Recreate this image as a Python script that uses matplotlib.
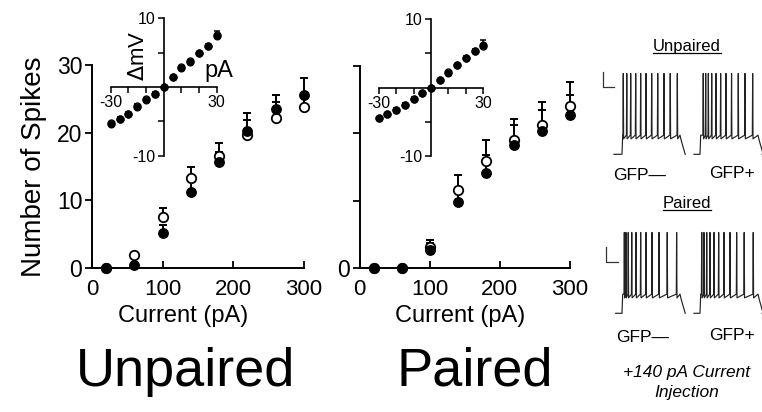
import numpy as np
import matplotlib
matplotlib.use("Agg")
import matplotlib.pyplot as plt
from matplotlib.lines import Line2D

plt.rcParams['font.family'] = ['Liberation Sans', 'DejaVu Sans']

# ---------------- data ----------------
current = [20, 60, 100, 140, 180, 220, 260, 300]

unp_gfpneg = [0, 0.4, 5.1, 11.3, 15.7, 20.2, 23.5, 25.6]
unp_gfpneg_err = [0, 0, 1.3, 2.1, 1.5, 2.7, 2.1, 2.5]
unp_gfppos = [0, 1.9, 7.5, 13.3, 16.6, 19.6, 22.2, 23.8]
unp_gfppos_err = [0, 0, 1.4, 1.7, 1.9, 2.3, 2.3, 1.8]

par_gfpneg = [0, 0, 2.7, 9.8, 14.2, 18.3, 20.4, 22.7]
par_gfpneg_err = [0, 0, 1.1, 1.5, 2.6, 2.9, 3.1, 3.0]
par_gfppos = [0, 0, 3.2, 11.6, 15.9, 19.1, 21.3, 24.0]
par_gfppos_err = [0, 0, 1.0, 2.3, 3.1, 3.1, 3.4, 3.6]

inset_current = [-30, -25, -20, -15, -10, -5, 0, 5, 10, 15, 20, 25, 30]
unp_iv_neg = [-5.4, -4.6, -4.0, -2.9, -1.85, -1.0, 0, 1.4, 2.7, 3.7, 4.9, 5.9, 7.4]
unp_iv_pos = [-5.3, -4.6, -3.9, -2.7, -1.8, -1.0, 0, 1.4, 2.9, 3.8, 4.9, 6.0, 7.5]
unp_iv_err = [0.2, 0.2, 0.2, 0.2, 0.2, 0.2, 0, 0.2, 0.2, 0.2, 0.2, 0.3, 0.7]
par_iv_neg = [-4.5, -3.9, -3.2, -2.5, -1.7, -0.8, 0, 1.1, 2.1, 3.3, 4.3, 5.3, 6.3]
par_iv_pos = [-4.5, -3.9, -3.2, -2.5, -1.6, -0.8, 0, 1.1, 2.3, 3.3, 4.4, 5.4, 6.1]
par_iv_err = [0.2, 0.2, 0.2, 0.2, 0.2, 0.2, 0, 0.2, 0.2, 0.2, 0.2, 0.3, 0.9]

main_xticks = [0, 100, 200, 300]
main_yticks = [0, 10, 20, 30]
inset_xticks = [-30, -20, -10, 10, 20, 30]
inset_yticks = [-10, -5, 5, 10]

# example traces (+140 pA), spike times in ms after step onset
unp_neg_spikes = [11, 41, 75, 118, 161, 207, 256, 308, 362, 416, 477]
unp_pos_spikes = [28, 49, 72, 101, 138, 178, 224, 272, 330, 388, 454]
par_neg_spikes = [20, 34, 54, 84, 121, 161, 207, 259, 319, 390, 471]
par_pos_spikes = [15, 34, 58, 86, 121, 161, 207, 259, 316, 381, 459]
step_on, step_off = 0, 500          # ms
v_rest, v_plateau, v_ahp, v_peak = -70, -44, -49, 40   # mV
scalebar_ms, scalebar_mv = 100, 20

W, H = 762, 412
fig = plt.figure(figsize=(W / 100, H / 100), dpi=100)


def rect(x0, y0, x1, y1):
    """pixel box (top-left origin) -> figure fraction rect"""
    return [x0 / W, (H - y1) / H, (x1 - x0) / W, (y1 - y0) / H]


def main_panel(r, neg, neg_err, pos, pos_err, ylabels):
    ax = fig.add_axes(r)
    ax.set_xlim(0, 300)
    ax.set_ylim(0, 30)
    for s in ['top', 'right']:
        ax.spines[s].set_visible(False)
    for s in ['left', 'bottom']:
        ax.spines[s].set_linewidth(1.4)
    ax.set_xticks(main_xticks)
    ax.set_xticklabels([str(t) for t in main_xticks])
    ax.set_yticks(main_yticks)
    if ylabels:
        ax.set_yticklabels([str(t) for t in main_yticks])
    else:
        ax.set_yticklabels(['0', '', '', ''])
    ax.tick_params(axis='x', direction='in', length=5, width=1.3, labelsize=16, pad=8)
    ax.tick_params(axis='y', direction='out', length=5, width=1.3, labelsize=16.5, pad=2)
    z = np.zeros(len(current))
    ax.errorbar(current, pos, yerr=[z, pos_err], fmt='none', ecolor='black',
                elinewidth=1.4, capsize=3, capthick=1.4, clip_on=False, zorder=3)
    ax.errorbar(current, neg, yerr=[z, neg_err], fmt='none', ecolor='black',
                elinewidth=1.4, capsize=3, capthick=1.4, clip_on=False, zorder=3)
    ax.plot(current, pos, 'o', ms=6.8, mfc='white', mec='black', mew=1.3,
            ls='none', clip_on=False, zorder=4)
    ax.plot(current, neg, 'o', ms=6.8, mfc='black', mec='black', mew=1.0,
            ls='none', clip_on=False, zorder=5)
    return ax


def inset_panel(r, neg, pos, err, labels):
    ax = fig.add_axes(r)
    ax.patch.set_alpha(0)
    ax.set_xlim(-30, 30)
    ax.set_ylim(-10, 10)
    ax.spines['left'].set_position(('data', 0))
    ax.spines['bottom'].set_position(('data', 0))
    for s in ['top', 'right']:
        ax.spines[s].set_visible(False)
    for s in ['left', 'bottom']:
        ax.spines[s].set_linewidth(1.2)
    ax.set_xticks(inset_xticks)
    ax.set_xticklabels(['-30', '', '', '', '', '30'])
    ax.set_yticks(inset_yticks)
    ax.set_yticklabels(['-10', '', '', '10'])
    ax.tick_params(axis='x', direction='out', length=4, width=1.1, labelsize=11.5, pad=2)
    ax.tick_params(axis='y', direction='out', length=4, width=1.1, labelsize=11.5, pad=2)
    z = np.zeros(len(inset_current))
    ax.errorbar(inset_current, pos, yerr=[z, err], fmt='none', ecolor='black',
                elinewidth=1.1, capsize=2.2, capthick=1.1, clip_on=False, zorder=3)
    ax.plot(inset_current, pos, 'o', ms=5.0, mfc='white', mec='black', mew=1.0,
            ls='none', clip_on=False, zorder=4)
    ax.plot(inset_current, neg, 'o', ms=5.0, mfc='black', mec='black', mew=0.8,
            ls='none', clip_on=False, zorder=5)
    if labels:
        ax.text(-14.5, 4.6, r'$\Delta$mV', rotation=90, ha='center', va='center',
                fontsize=16)
        ax.text(31, 2.3, 'pA', ha='center', va='center', fontsize=17)
    return ax


# main panels
ax1 = main_panel(rect(92, 65, 304, 268), unp_gfpneg, unp_gfpneg_err,
                 unp_gfppos, unp_gfppos_err, True)
ax2 = main_panel(rect(359.5, 66, 569.5, 268.3), par_gfpneg, par_gfpneg_err,
                 par_gfppos, par_gfppos_err, False)
ax1.set_ylabel('Number of Spikes', fontsize=20, labelpad=7)

inset_panel(rect(110.7, 18.3, 216.7, 155.7), unp_iv_neg, unp_iv_pos, unp_iv_err, True)
inset_panel(rect(378.7, 19.3, 483.3, 156), par_iv_neg, par_iv_pos, par_iv_err, False)

# axis titles and big labels
fig.text(183 / W, (H - 322) / H, 'Current (pA)', ha='center', va='baseline', fontsize=17)
fig.text(460 / W, (H - 322) / H, 'Current (pA)', ha='center', va='baseline', fontsize=17)
fig.text(186 / W, (H - 386) / H, 'Unpaired', ha='center', va='baseline', fontsize=39)
fig.text(475 / W, (H - 386) / H, 'Paired', ha='center', va='baseline', fontsize=39)


# ---------------- example traces ----------------
def trace_xy(spikes, t0, t1):
    t = [t0, step_on, step_on + 6]
    v = [v_rest, v_rest, v_plateau]
    for s in spikes:
        t += [s - 3, s, s + 3]
        v += [v_plateau, v_peak, v_ahp]
    t += [step_off, step_off + 12, step_off + 45, t1]
    v += [v_plateau, v_plateau - 8, v_rest, v_rest]
    return t, v


px_per_ms = 0.116
px_per_mv = 0.735


def trace_axes(x_onset, y_rest, tmin, tmax):
    x0 = x_onset + px_per_ms * tmin
    x1 = x_onset + px_per_ms * tmax
    y0 = y_rest - px_per_mv * (45 - v_rest)
    y1 = y_rest - px_per_mv * (-75 - v_rest)
    ax = fig.add_axes(rect(x0, y0, x1, y1))
    ax.set_xlim(tmin, tmax)
    ax.set_ylim(-75, 45)
    ax.axis('off')
    ax.patch.set_alpha(0)
    return ax


def draw_trace(ax, spikes, t0, t1):
    t, v = trace_xy(spikes, t0, t1)
    ax.plot(t, v, color='#222222', lw=0.85, clip_on=False)


def scalebar(ax, t_left, v_bottom):
    ax.plot([t_left, t_left, t_left + scalebar_ms],
            [v_bottom + scalebar_mv, v_bottom, v_bottom],
            color='#333333', lw=0.9, clip_on=False)


a = trace_axes(622, 154.3, -185, 560)
draw_trace(a, unp_neg_spikes, -70, 545)
scalebar(a, -165, 22)
a = trace_axes(700, 154.3, -60, 545)
draw_trace(a, unp_pos_spikes, -52, 535)

a = trace_axes(622, 313.3, -185, 560)
draw_trace(a, par_neg_spikes, -55, 545)
scalebar(a, -138, 0)
a = trace_axes(700, 313.3, -60, 545)
draw_trace(a, par_pos_spikes, -52, 535)

fig.text(640 / W, (H - 175) / H, 'GFP\u2014', ha='center', va='center', fontsize=12.5)
fig.text(732 / W, (H - 173) / H, 'GFP+', ha='center', va='center', fontsize=12.5)
fig.text(643 / W, (H - 337) / H, 'GFP\u2014', ha='center', va='center', fontsize=12.5)
fig.text(732 / W, (H - 335) / H, 'GFP+', ha='center', va='center', fontsize=12.5)
fig.text(687 / W, (H - 372) / H, '+140 pA Current', ha='center', va='center',
         fontsize=12.5, style='italic')
fig.text(687 / W, (H - 392) / H, 'Injection', ha='center', va='center',
         fontsize=12.5, style='italic')

renderer = fig.canvas.get_renderer()
for label, ypx in [('Unpaired', 46), ('Paired', 203)]:
    t = fig.text(687 / W, (H - ypx) / H, label, ha='center', va='center', fontsize=12)
    bb = t.get_window_extent(renderer=renderer)
    bbf = bb.transformed(fig.transFigure.inverted())
    yline = bbf.y0 + 0.002
    fig.add_artist(Line2D([bbf.x0, bbf.x1], [yline, yline], color='black', lw=0.9,
                          transform=fig.transFigure))

fig.savefig('out.png', dpi=100)
